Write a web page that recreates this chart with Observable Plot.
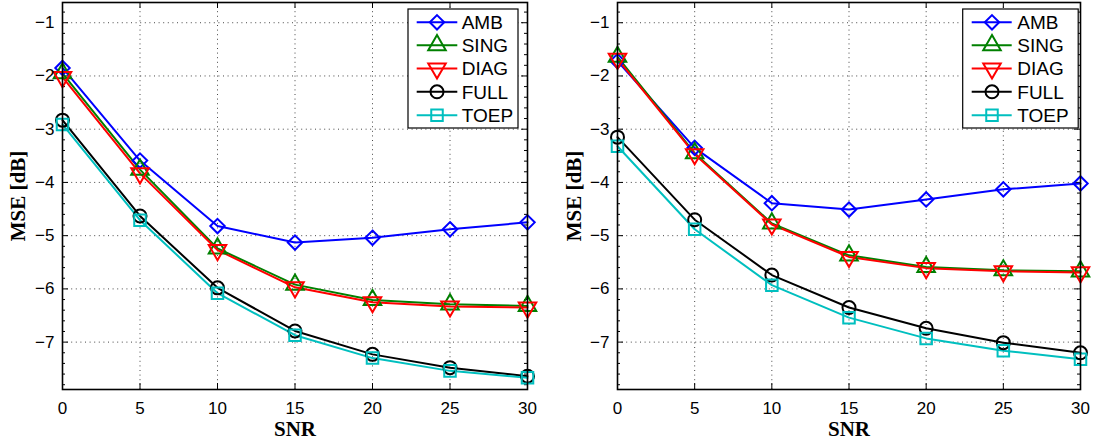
<!DOCTYPE html>
<html><head><meta charset="utf-8">
<script src="https://cdn.jsdelivr.net/npm/d3@7"></script>
<script src="https://cdn.jsdelivr.net/npm/@observablehq/plot@0.6"></script>
<style>
body{margin:0;background:#fff;}
#wrap{position:relative;width:1097px;height:441px;overflow:hidden;}
#wrap svg{position:absolute;top:0;background:#fff;}
</style></head><body><div id="wrap"></div>
<script>
// ---- data ----
const snr = [0, 5, 10, 15, 20, 25, 30];
const seriesNames = ["AMB", "SING", "DIAG", "FULL", "TOEP"];
const seriesColors = ["#0000ff", "#008000", "#ff0000", "#000000", "#00bfbf"];
const seriesSymbols = ["diamond2", "triangle", "triangle", "circle", "square"];
const seriesRotate = [0, 0, 180, 0, 0];
const xTicks = [0, 5, 10, 15, 20, 25, 30];
const yTicks = [-7, -6, -5, -4, -3, -2, -1];
const xLabel = "SNR";
const yLabel = "MSE [dB]";

// left panel
const leftAMB  = [-1.85, -3.59, -4.82, -5.13, -5.04, -4.88, -4.75];
const leftSING = [-1.95, -3.76, -5.24, -5.92, -6.21, -6.29, -6.32];
const leftDIAG = [-2.02, -3.83, -5.27, -5.97, -6.25, -6.33, -6.35];
const leftFULL = [-2.83, -4.63, -5.98, -6.79, -7.23, -7.48, -7.64];
const leftTOEP = [-2.91, -4.71, -6.08, -6.87, -7.30, -7.54, -7.67];

// right panel
const rightAMB  = [-1.72, -3.35, -4.39, -4.51, -4.32, -4.13, -4.02];
const rightSING = [-1.64, -3.45, -4.77, -5.37, -5.59, -5.65, -5.67];
const rightDIAG = [-1.68, -3.47, -4.79, -5.40, -5.61, -5.67, -5.69];
const rightFULL = [-3.15, -4.70, -5.74, -6.35, -6.74, -7.01, -7.20];
const rightTOEP = [-3.32, -4.88, -5.93, -6.54, -6.93, -7.16, -7.32];

function table(arrs) {
  const rows = [];
  seriesNames.forEach((s, i) => arrs[i].forEach((v, j) => rows.push({snr: snr[j], mse: v, series: s})));
  return rows;
}
const leftRows = table([leftAMB, leftSING, leftDIAG, leftFULL, leftTOEP]);
const rightRows = table([rightAMB, rightSING, rightDIAG, rightFULL, rightTOEP]);

const d3Symbols = {diamond2: d3.symbolDiamond2, triangle: d3.symbolTriangle, circle: d3.symbolCircle, square: d3.symbolSquare};
const R = 6.5;
const tickFont = "'Liberation Sans', Arial, Helvetica, sans-serif";
const labelFont = "'Liberation Serif', 'Times New Roman', serif";

function panel(rows, cfg) {
  const H = 441, mt = 2, mb = 52;
  const innerW = cfg.width - cfg.marginLeft - cfg.marginRight;
  const innerH = H - mt - mb;
  const minor = d3.range(-7.8, -0.61, 0.2).map(v => Math.round(v * 10) / 10).filter(v => !Number.isInteger(v));
  const grid = {stroke: "#333", strokeWidth: 0.9, strokeDasharray: "1,3.6"};
  const tickStyle = {stroke: "black", strokeWidth: 1};
  const marks = [
    Plot.ruleY(yTicks, {y: d => d, ...grid}),
    Plot.ruleX(xTicks.slice(1, -1), {x: d => d, ...grid}),
    // inward ticks
    Plot.tickY(yTicks, {y: d => d, insetRight: innerW - 6, ...tickStyle}),
    Plot.tickY(yTicks, {y: d => d, insetLeft: innerW - 6, ...tickStyle}),
    Plot.tickY(minor, {y: d => d, insetRight: innerW - 3, ...tickStyle}),
    Plot.tickY(minor, {y: d => d, insetLeft: innerW - 3, ...tickStyle}),
    Plot.tickX(xTicks, {x: d => d, insetTop: innerH - 6, ...tickStyle}),
    Plot.tickX(xTicks, {x: d => d, insetBottom: innerH - 6, ...tickStyle}),
    Plot.line(rows, {x: "snr", y: "mse", z: "series", stroke: "series", strokeWidth: 2}),
    ...seriesNames.map((s, i) => Plot.dot(rows.filter(r => r.series === s), {
      x: "snr", y: "mse", stroke: "series", fill: "none", symbol: seriesSymbols[i],
      rotate: seriesRotate[i], r: R, strokeWidth: 2
    })),
    Plot.frame({stroke: "black", strokeWidth: 1.6}),
    Plot.axisX({ticks: xTicks, tickSize: 0, tickPadding: 12.5, label: null, fontSize: 17, fontFamily: tickFont}),
    Plot.axisY({ticks: yTicks, tickSize: 0, tickPadding: 8, label: null, fontSize: 17, fontFamily: tickFont}),
    Plot.text([xLabel], {text: d => d, frameAnchor: "bottom", lineAnchor: "middle", textAnchor: "middle", dy: 40, fontSize: 21, fontWeight: "bold", fontFamily: labelFont, fill: "black"}),
    Plot.text([yLabel], {text: d => d, frameAnchor: "left", lineAnchor: "middle", textAnchor: "middle", dx: cfg.ylabelDx, rotate: -90, fontSize: 21, fontWeight: "bold", fontFamily: labelFont, fill: "black"})
  ];
  const svg = Plot.plot({
    width: cfg.width, height: H,
    marginLeft: cfg.marginLeft, marginRight: cfg.marginRight, marginTop: mt, marginBottom: mb,
    x: {domain: [0, 30]},
    y: {domain: [-7.89, -0.62]},
    color: {domain: seriesNames, range: seriesColors},
    style: {fontFamily: tickFont, fontSize: "17px", color: "black", background: "white"},
    marks
  });
  // legend
  const g = d3.select(svg).append("g");
  g.append("rect").attr("x", cfg.legendX).attr("y", 9).attr("width", cfg.legendW).attr("height", 119)
    .attr("fill", "white").attr("stroke", "black").attr("stroke-width", 1.2);
  const legendRows = [22.3, 45.2, 68.5, 91.8, 115.2];
  seriesNames.forEach((s, i) => {
    const y = legendRows[i];
    g.append("line").attr("x1", cfg.lineX1).attr("x2", cfg.lineX2).attr("y1", y).attr("y2", y)
      .attr("stroke", seriesColors[i]).attr("stroke-width", 2);
    g.append("path").attr("d", d3.symbol(d3Symbols[seriesSymbols[i]], Math.PI * R * R)())
      .attr("transform", `translate(${cfg.markX},${y}) rotate(${seriesRotate[i]})`)
      .attr("fill", "none").attr("stroke", seriesColors[i]).attr("stroke-width", 2);
    g.append("text").attr("x", cfg.textX).attr("y", y + 6.8).text(s)
      .attr("text-anchor", "start")
      .attr("font-family", tickFont).attr("font-size", 19).attr("fill", "black");
  });
  svg.style.left = cfg.left + "px";
  return svg;
}

const wrap = document.getElementById("wrap");
wrap.appendChild(panel(leftRows, {
  left: 0, width: 548, marginLeft: 62, marginRight: 21, ylabelDx: -44.5,
  legendX: 408, legendW: 110, lineX1: 416.7, lineX2: 457.3, markX: 437, textX: 461.7
}));
wrap.appendChild(panel(rightRows, {
  left: 548, width: 549, marginLeft: 69, marginRight: 17, ylabelDx: -43.5,
  legendX: 414.7, legendW: 115.5, lineX1: 423.7, lineX2: 463.7, markX: 444, textX: 469.3
}));
</script></body></html>
